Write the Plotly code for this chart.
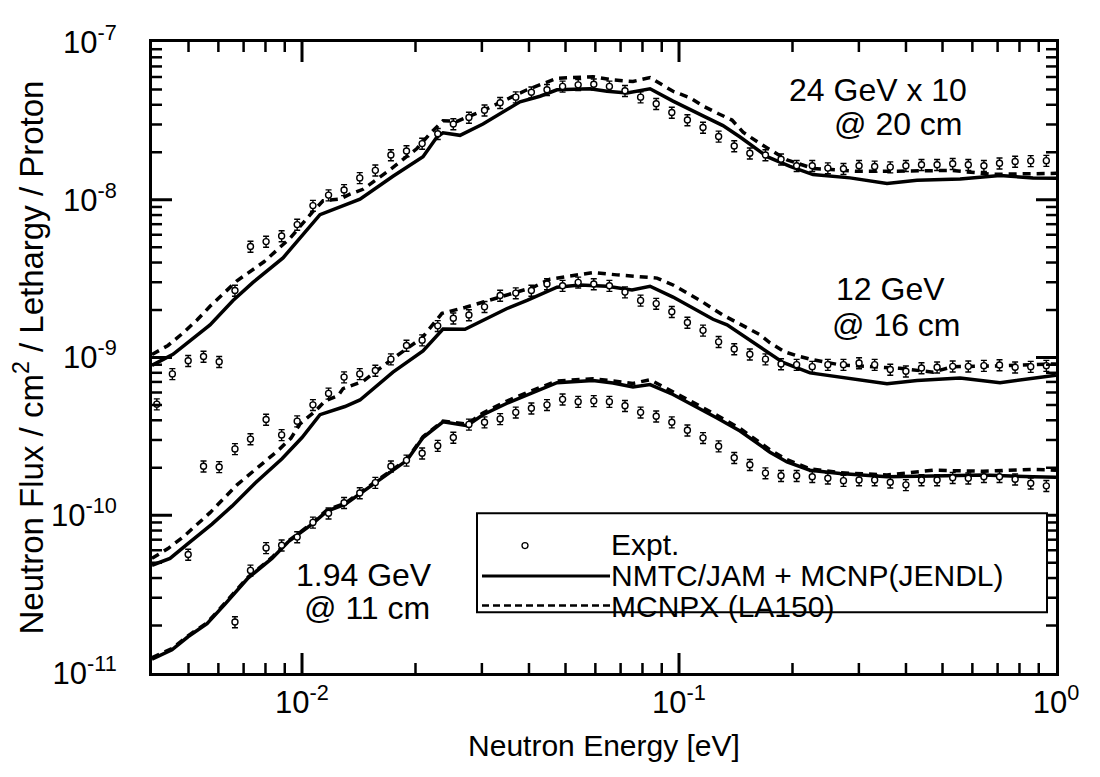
import math
import plotly.graph_objects as go

# ---------------- data ----------------
energy = [0.00412, 0.00453, 0.00499, 0.00548, 0.00603, 0.00664, 0.00730, 0.00803, 0.00883, 0.00971,
          0.01069, 0.01176, 0.01293, 0.01423, 0.01565, 0.01721, 0.01893, 0.02083, 0.02291, 0.02520,
          0.02772, 0.03049, 0.03354, 0.03690, 0.04059, 0.04465, 0.04911, 0.05402, 0.05942, 0.06537,
          0.07190, 0.07909, 0.08700, 0.09570, 0.10527, 0.11580, 0.12738, 0.14012, 0.15413, 0.16954,
          0.18650, 0.20515, 0.22566, 0.24823, 0.27305, 0.30036, 0.33039, 0.36343, 0.39978, 0.43975,
          0.48373, 0.53210, 0.58531, 0.64384, 0.70823, 0.77905, 0.85696, 0.94266]

expt_24gev_x10 = [5.06e-10, 7.87e-10, 9.54e-10, 1.015e-9, 9.40e-10, 2.66e-9, 5.05e-9, 5.43e-9, 5.89e-9, 6.96e-9,
                  9.18e-9, 1.07e-8, 1.154e-8, 1.376e-8, 1.536e-8, 1.922e-8, 2.035e-8, 2.27e-8, 2.62e-8, 3.02e-8,
                  3.32e-8, 3.69e-8, 4.12e-8, 4.47e-8, 4.80e-8, 4.98e-8, 5.23e-8, 5.35e-8, 5.40e-8, 5.23e-8,
                  4.91e-8, 4.47e-8, 4.06e-8, 3.57e-8, 3.20e-8, 2.87e-8, 2.52e-8, 2.19e-8, 1.97e-8, 1.92e-8,
                  1.805e-8, 1.643e-8, 1.643e-8, 1.587e-8, 1.573e-8, 1.643e-8, 1.626e-8, 1.61e-8, 1.643e-8, 1.666e-8,
                  1.666e-8, 1.69e-8, 1.666e-8, 1.643e-8, 1.704e-8, 1.746e-8, 1.764e-8, 1.77e-8]

expt_12gev = [None, None, 5.64e-11, 2.045e-10, 2.024e-10, 2.634e-10, 3.04e-10, 4.045e-10, 3.23e-10, 3.95e-10,
              5.01e-10, 5.92e-10, 7.51e-10, 7.87e-10, 8.27e-10, 9.76e-10, 1.192e-9, 1.288e-9, 1.587e-9, 1.772e-9,
              1.858e-9, 2.095e-9, 2.473e-9, 2.56e-9, 2.66e-9, 2.923e-9, 2.853e-9, 2.995e-9, 2.923e-9, 2.853e-9,
              2.597e-9, 2.302e-9, 2.196e-9, 1.95e-9, 1.666e-9, 1.486e-9, 1.257e-9, 1.132e-9, 1.048e-9, 9.76e-10,
              9.09e-10, 9.01e-10, 8.75e-10, 9.01e-10, 9.01e-10, 9.22e-10, 9.01e-10, 8.39e-10, 8.18e-10, 8.58e-10,
              8.67e-10, 8.79e-10, 8.79e-10, 8.88e-10, 8.96e-10, 8.67e-10, 8.75e-10, 8.88e-10]

expt_194gev = [None, None, None, None, None, 2.104e-11, 4.47e-11, 6.21e-11, 6.45e-11, 7.27e-11,
               9.01e-11, 1.029e-10, 1.2e-10, 1.384e-10, 1.61e-10, 2.045e-10, 2.228e-10, 2.473e-10, 2.76e-10, 3.11e-10,
               3.765e-10, 3.89e-10, 4.08e-10, 4.49e-10, 4.77e-10, 5.01e-10, 5.43e-10, 5.25e-10, 5.31e-10, 5.25e-10,
               4.94e-10, 4.49e-10, 4.24e-10, 3.89e-10, 3.455e-10, 3.095e-10, 2.74e-10, 2.315e-10, 2.088e-10, 1.85e-10,
               1.78e-10, 1.78e-10, 1.754e-10, 1.715e-10, 1.657e-10, 1.673e-10, 1.673e-10, 1.619e-10, 1.558e-10, 1.673e-10,
               1.673e-10, 1.729e-10, 1.715e-10, 1.754e-10, 1.754e-10, 1.69e-10, 1.596e-10, 1.536e-10]

# NMTC/JAM + MCNP(JENDL), 24 GeV x 10
nmtc_24_e = [0.004, 0.004548, 0.005702, 0.006561, 0.007413, 0.008905, 0.01116, 0.01261, 0.01425, 0.01743,
             0.02094, 0.0228, 0.02366, 0.02625, 0.0302, 0.03786, 0.04279, 0.04747, 0.05806, 0.06442,
             0.07279, 0.08378, 0.09641, 0.1158, 0.1308, 0.1452, 0.1712, 0.197, 0.2267, 0.2842,
             0.3562, 0.4279, 0.5566, 0.7104, 0.869, 1.0]
nmtc_24 = [8.92e-10, 1.048e-9, 1.61e-9, 2.30e-9, 2.995e-9, 4.28e-9, 8.04e-9, 8.96e-9, 1.01e-8, 1.41e-8,
           1.876e-8, 2.497e-8, 2.66e-8, 2.56e-8, 3.02e-8, 4.18e-8, 4.53e-8, 4.98e-8, 5.05e-8, 4.87e-8,
           4.75e-8, 5.05e-8, 4.22e-8, 3.40e-8, 2.95e-8, 2.497e-8, 1.876e-8, 1.626e-8, 1.444e-8, 1.376e-8,
           1.27e-8, 1.331e-8, 1.356e-8, 1.423e-8, 1.376e-8, 1.37e-8]

# MCNPX (LA150), 24 GeV x 10
mcnpx_24_e = [0.004, 0.004411, 0.004835, 0.005266, 0.005702, 0.006722, 0.007929, 0.009293, 0.01063, 0.01137,
              0.01261, 0.0134, 0.01451, 0.01712, 0.02018, 0.02185, 0.02366, 0.02577, 0.0302, 0.03953,
              0.04747, 0.05914, 0.06681, 0.07551, 0.08378, 0.09641, 0.1070, 0.1158, 0.1269, 0.1382,
              0.1479, 0.164, 0.1934, 0.2267, 0.2966, 0.3628, 0.5234, 0.6808, 1.0]
mcnpx_24 = [1.044e-9, 1.192e-9, 1.43e-9, 1.729e-9, 2.113e-9, 3.064e-9, 4.045e-9, 5.70e-9, 8.30e-9, 9.86e-9,
            1.01e-8, 1.085e-8, 1.165e-8, 1.55e-8, 2.113e-8, 2.62e-8, 3.17e-8, 3.14e-8, 3.67e-8, 4.98e-8,
            5.89e-8, 6.03e-8, 5.75e-8, 5.62e-8, 5.95e-8, 4.87e-8, 4.43e-8, 3.93e-8, 3.52e-8, 3.20e-8,
            2.68e-8, 2.27e-8, 1.79e-8, 1.58e-8, 1.514e-8, 1.514e-8, 1.536e-8, 1.45e-8, 1.47e-8]

# NMTC/JAM + MCNP(JENDL), 12 GeV
nmtc_12_e = [0.004, 0.004466, 0.004983, 0.005771, 0.006521, 0.007504, 0.008849, 0.01, 0.01116, 0.013,
             0.01425, 0.01743, 0.02094, 0.02366, 0.02706, 0.03498, 0.03953, 0.04747, 0.05463, 0.06442,
             0.07504, 0.08378, 0.09641, 0.1089, 0.1231, 0.1341, 0.1743, 0.1887, 0.2226, 0.2674,
             0.3152, 0.3562, 0.4279, 0.5566, 0.7104, 0.869, 1.0]
nmtc_12 = [4.82e-11, 5.33e-11, 6.61e-11, 8.79e-11, 1.142e-10, 1.596e-10, 2.283e-10, 3.11e-10, 4.34e-10, 4.89e-10,
           5.38e-10, 8.07e-10, 1.1e-9, 1.514e-9, 1.508e-9, 2.045e-9, 2.302e-9, 2.788e-9, 2.882e-9, 2.83e-9,
           2.684e-9, 2.83e-9, 2.416e-9, 2.045e-9, 1.747e-9, 1.61e-9, 1.048e-9, 9.31e-10, 7.99e-10, 7.51e-10,
           7.16e-10, 6.83e-10, 7.16e-10, 7.41e-10, 6.92e-10, 7.41e-10, 7.73e-10]

# MCNPX (LA150), 12 GeV
mcnpx_12_e = [0.004, 0.004411, 0.004835, 0.005266, 0.005702, 0.006722, 0.007881, 0.008635, 0.009351, 0.00988,
              0.01083, 0.01151, 0.01246, 0.01285, 0.01451, 0.01743, 0.02081, 0.02351, 0.02706, 0.03351,
              0.03718, 0.041, 0.04549, 0.04925, 0.05914, 0.06847, 0.07883, 0.08745, 0.09641, 0.1137,
              0.1308, 0.1479, 0.164, 0.1743, 0.191, 0.2056, 0.2226, 0.2674, 0.3857, 0.4718,
              0.5331, 0.7104, 1.0]
mcnpx_12 = [5.33e-11, 6.15e-11, 7.27e-11, 8.79e-11, 1.039e-10, 1.558e-10, 2.144e-10, 2.57e-10, 3.083e-10, 3.80e-10,
            4.55e-10, 5.31e-10, 5.72e-10, 6.35e-10, 7.06e-10, 9.86e-10, 1.331e-9, 1.904e-9, 2.075e-9, 2.416e-9,
            2.597e-9, 2.788e-9, 3.14e-9, 3.245e-9, 3.455e-9, 3.34e-9, 3.245e-9, 3.186e-9, 2.882e-9, 2.302e-9,
            1.858e-9, 1.587e-9, 1.395e-9, 1.239e-9, 1.085e-9, 1.025e-9, 9.76e-10, 8.98e-10, 8.54e-10, 8.07e-10,
            8.75e-10, 8.86e-10, 9.11e-10]

# 1.94 GeV (both calculations on one energy grid)
calc_194_e = [0.004, 0.004519, 0.004983, 0.005598, 0.006249, 0.007191, 0.008325, 0.009182, 0.01063, 0.01165,
              0.013, 0.01543, 0.01898, 0.02094, 0.02366, 0.0274, 0.0302, 0.03498, 0.03953, 0.04747,
              0.05914, 0.06681, 0.07551, 0.08378, 0.09641, 0.1089, 0.1261, 0.1452, 0.1743, 0.1934,
              0.2226, 0.2674, 0.3562, 0.4718, 0.6404, 0.869, 1.0]
nmtc_194 = [1.222e-11, 1.403e-11, 1.697e-11, 2.053e-11, 2.733e-11, 4.0e-11, 5.33e-11, 6.77e-11, 8.79e-11, 1.063e-10,
            1.17e-10, 1.558e-10, 2.228e-10, 3.11e-10, 3.91e-10, 3.70e-10, 4.34e-10, 5.13e-10, 5.78e-10, 6.92e-10,
            7.16e-10, 6.89e-10, 6.51e-10, 6.73e-10, 5.83e-10, 5.01e-10, 4.14e-10, 3.42e-10, 2.51e-10, 2.175e-10,
            1.93e-10, 1.842e-10, 1.754e-10, 1.772e-10, 1.798e-10, 1.754e-10, 1.74e-10]
mcnpx_194 = [1.25e-11, 1.43e-11, 1.72e-11, 2.08e-11, 2.78e-11, 4.05e-11, 5.4e-11, 6.85e-11, 8.9e-11, 1.08e-10,
             1.19e-10, 1.58e-10, 2.26e-10, 3.15e-10, 3.95e-10, 3.78e-10, 4.45e-10, 5.3e-10, 6.0e-10, 7.1e-10,
             7.33e-10, 7.1e-10, 6.85e-10, 7.23e-10, 6.1e-10, 5.2e-10, 4.3e-10, 3.55e-10, 2.6e-10, 2.25e-10,
             1.97e-10, 1.86e-10, 1.80e-10, 1.93e-10, 1.90e-10, 1.95e-10, 1.93e-10]

x_tickvals = [0.01, 0.1, 1]
x_ticktext = ["10<sup>-2</sup>", "10<sup>-1</sup>", "10<sup>0</sup>"]
y_tickvals = [1e-11, 1e-10, 1e-9, 1e-8, 1e-7]
y_ticktext = ["10<sup>-11</sup>", "10<sup>-10</sup>", "10<sup>-9</sup>", "10<sup>-8</sup>", "10<sup>-7</sup>"]

legend_labels = ["Expt.", "NMTC/JAM + MCNP(JENDL)", "MCNPX (LA150)"]

# ---------------- figure ----------------
FONT = "Liberation Sans, Arial, Helvetica, sans-serif"
OFF = 8                      # default page margin around the figure
W, H = 1084, 761             # figure size so that figure + page margin fills the window
ML, MR, MT, MB = 144, 36, 25, 92
PW, PH = W - ML - MR, H - MT - MB
XR = [-2.3979, 0]
YR = [-11, -7]


def pxx(x):
    # window pixel -> paper fraction
    return (x - OFF - ML) / PW


def pxy(y):
    return (H - MB - (y - OFF)) / PH


SOLID = dict(color="black", width=3.5)
DASH = dict(color="black", width=3.5, dash="8px,6px")

fig = go.Figure()

calc = [
    (nmtc_24_e, nmtc_24, SOLID, legend_labels[1]),
    (mcnpx_24_e, mcnpx_24, DASH, legend_labels[2]),
    (nmtc_12_e, nmtc_12, SOLID, legend_labels[1]),
    (mcnpx_12_e, mcnpx_12, DASH, legend_labels[2]),
    (calc_194_e, nmtc_194, SOLID, legend_labels[1]),
    (calc_194_e, mcnpx_194, DASH, legend_labels[2]),
]
for xs, ys, ln, nm in calc:
    fig.add_trace(go.Scatter(x=xs, y=ys, mode="lines", line=ln, name=nm, showlegend=False))

for ys in (expt_24gev_x10, expt_12gev, expt_194gev):
    fig.add_trace(go.Scatter(
        x=energy, y=ys, mode="markers", name=legend_labels[0], showlegend=False,
        marker=dict(symbol="circle", size=6, color="white", line=dict(color="black", width=1.4)),
        error_y=dict(type="percent", value=8, color="black", thickness=1.4, width=3),
    ))

tickfont = dict(family=FONT, size=31, color="black")

fig.update_layout(
    xaxis=dict(
        type="log", range=XR, showgrid=False, zeroline=False,
        showline=True, linecolor="black", linewidth=3, mirror=True,
        ticks="", tickmode="array", tickvals=x_tickvals, ticktext=x_ticktext,
        tickfont=tickfont,
        title=dict(text="Neutron Energy [eV]", font=dict(family=FONT, size=30, color="black"), standoff=16),
    ),
    yaxis=dict(
        type="log", range=YR, showgrid=False, zeroline=False,
        showline=True, linecolor="black", linewidth=3, mirror=True,
        ticks="", tickmode="array", tickvals=y_tickvals, ticktext=y_ticktext,
        tickfont=tickfont, ticklabelstandoff=26,
        title=dict(text="Neutron Flux / cm<sup>2</sup> / Lethargy / Proton",
                   font=dict(family=FONT, size=33, color="black"), standoff=2),
    ),
)

# ---- inside tick marks on all four sides (major: decades, minor: 2..9) ----
x_minor = [d * 10.0 ** p for p in (-3, -2, -1) for d in range(2, 10)]
y_minor = [d * 10.0 ** p for p in (-11, -10, -9, -8) for d in range(2, 10)]


def xfrac(v):
    return (math.log10(v) - XR[0]) / (XR[1] - XR[0])


def yfrac(v):
    return (math.log10(v) - YR[0]) / (YR[1] - YR[0])


def add_xtick(v, length, width):
    f = xfrac(v)
    if not (0.0 < f < 1.0):
        return
    for anchor, sign in ((0, 1), (1, -1)):
        fig.add_shape(type="line", xref="paper", yref="paper", ysizemode="pixel", yanchor=anchor,
                      x0=f, x1=f, y0=0, y1=sign * length,
                      line=dict(color="black", width=width), layer="above")


def add_ytick(v, length, width):
    f = yfrac(v)
    if not (0.0 < f < 1.0):
        return
    for anchor, sign in ((0, 1), (1, -1)):
        fig.add_shape(type="line", xref="paper", yref="paper", xsizemode="pixel", xanchor=anchor,
                      y0=f, y1=f, x0=0, x1=sign * length,
                      line=dict(color="black", width=width), layer="above")


for v in x_tickvals:
    add_xtick(v, 20, 3)
for v in x_minor:
    add_xtick(v, 10, 2.5)
for v in y_tickvals:
    add_ytick(v, 20, 3)
for v in y_minor:
    add_ytick(v, 10, 2.5)

ann_font = dict(family=FONT, size=32, color="black")
annotations = [
    ("24 GeV x 10", 878, 82),
    ("@ 20 cm", 898, 117),
    ("12 GeV", 890, 285),
    ("@ 16 cm", 896, 322),
    ("1.94 GeV", 364, 577),
    ("@ 11 cm", 367, 611),
]
for txt, ax, ay in annotations:
    fig.add_annotation(xref="paper", yref="paper", showarrow=False, text=txt,
                       x=pxx(ax), y=pxy(ay), xanchor="center", yanchor="middle", font=ann_font)

# legend (drawn as a box with samples)
leg_font = dict(family=FONT, size=30, color="black")
fig.add_shape(type="rect", xref="paper", yref="paper",
              x0=pxx(477), x1=pxx(1047), y0=pxy(615), y1=pxy(514),
              line=dict(color="black", width=2), fillcolor="white", layer="above")
fig.add_shape(type="circle", xref="paper", yref="paper",
              x0=pxx(522), x1=pxx(528), y0=pxy(550), y1=pxy(544),
              line=dict(color="black", width=1.3), fillcolor="white", layer="above")
fig.add_shape(type="line", xref="paper", yref="paper",
              x0=pxx(482), x1=pxx(610), y0=pxy(578), y1=pxy(578),
              line=dict(color="black", width=3), layer="above")
fig.add_shape(type="line", xref="paper", yref="paper",
              x0=pxx(482), x1=pxx(610), y0=pxy(608), y1=pxy(608),
              line=dict(color="black", width=2.5, dash="7px,4px"), layer="above")
for lbl, yy in zip(legend_labels, (546, 578, 609)):
    fig.add_annotation(xref="paper", yref="paper", showarrow=False, text=lbl,
                       x=pxx(610), y=pxy(yy), xanchor="left", yanchor="middle", font=leg_font,
                       borderpad=0)

fig.update_layout(
    width=W, height=H, autosize=False,
    margin=dict(l=ML, r=MR, t=MT, b=MB),
    paper_bgcolor="white", plot_bgcolor="white",
    showlegend=False,
    font=dict(family=FONT, color="black"),
)

fig.write_html("out.html")
